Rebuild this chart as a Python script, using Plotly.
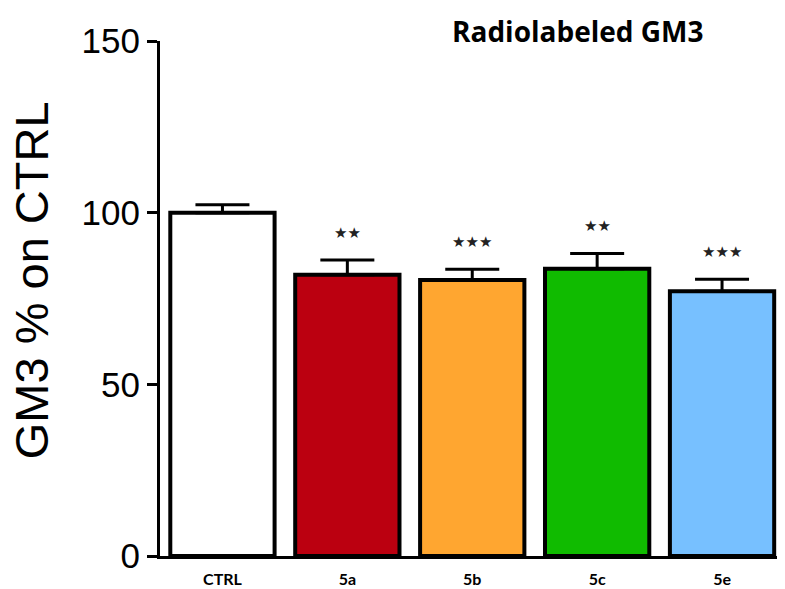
import plotly.graph_objects as go

categories = ["CTRL", "5a", "5b", "5c", "5e"]
values = [100.0, 81.9, 80.4, 83.7, 77.1]
errors = [2.3, 4.3, 3.1, 4.4, 3.5]
stars = ["", "★★", "★★★", "★★", "★★★"]
colors = ["#FFFFFF", "#BB0010", "#FFA630", "#10BB00", "#77C0FF"]
y_ticks = [0, 50, 100, 150]

fig = go.Figure()
fig.add_trace(go.Bar(
    x=categories, y=values,
    marker=dict(color=colors, line=dict(color="black", width=4)),
    width=0.835,
    error_y=dict(type="data", array=errors, arrayminus=[0]*len(errors), symmetric=False,
                 color="black", thickness=3, width=27),
    showlegend=False,
))

for c, v, e, s in zip(categories, values, errors, stars):
    if s:
        fig.add_annotation(x=c, y=v + e + 8, text=s, showarrow=False,
                           font=dict(family="DejaVu Sans", size=15, color="#222"),
                           yanchor="middle")

fig.add_annotation(xref="paper", yref="paper", x=-0.207, y=0.536, text="GM3 % on CTRL",
                   textangle=-90, showarrow=False, xanchor="center", yanchor="middle",
                   font=dict(family="Liberation Sans, Arial", size=47, color="black"))
fig.add_annotation(xref="paper", yref="paper", x=0.676, y=1.019, text="<b>Radiolabeled GM3</b>",
                   showarrow=False, xanchor="center", yanchor="middle",
                   font=dict(family="Open Sans", size=28, color="black"))

fig.update_layout(
    width=777, height=581,
    margin=dict(l=152, r=8, t=33, b=33, autoexpand=False),
    paper_bgcolor="white", plot_bgcolor="white",
    xaxis=dict(range=[-0.5, 4.44], showline=True, linecolor="black", linewidth=3,
               ticks="", showgrid=False, zeroline=False, ticklabelstandoff=7, automargin=False,
               tickfont=dict(family="Lato", size=16, color="black"),
               tickvals=categories, ticktext=[f"<b>{c}</b>" for c in categories]),
    yaxis=dict(range=[0, 150], tickvals=y_ticks, showline=True, linecolor="black", linewidth=3,
               ticks="outside", ticklen=10, tickwidth=3, tickcolor="black",
               showgrid=False, zeroline=False, automargin=False,
               tickfont=dict(family="Liberation Sans, Arial", size=35, color="black")),
)

fig.write_html("out.html")
